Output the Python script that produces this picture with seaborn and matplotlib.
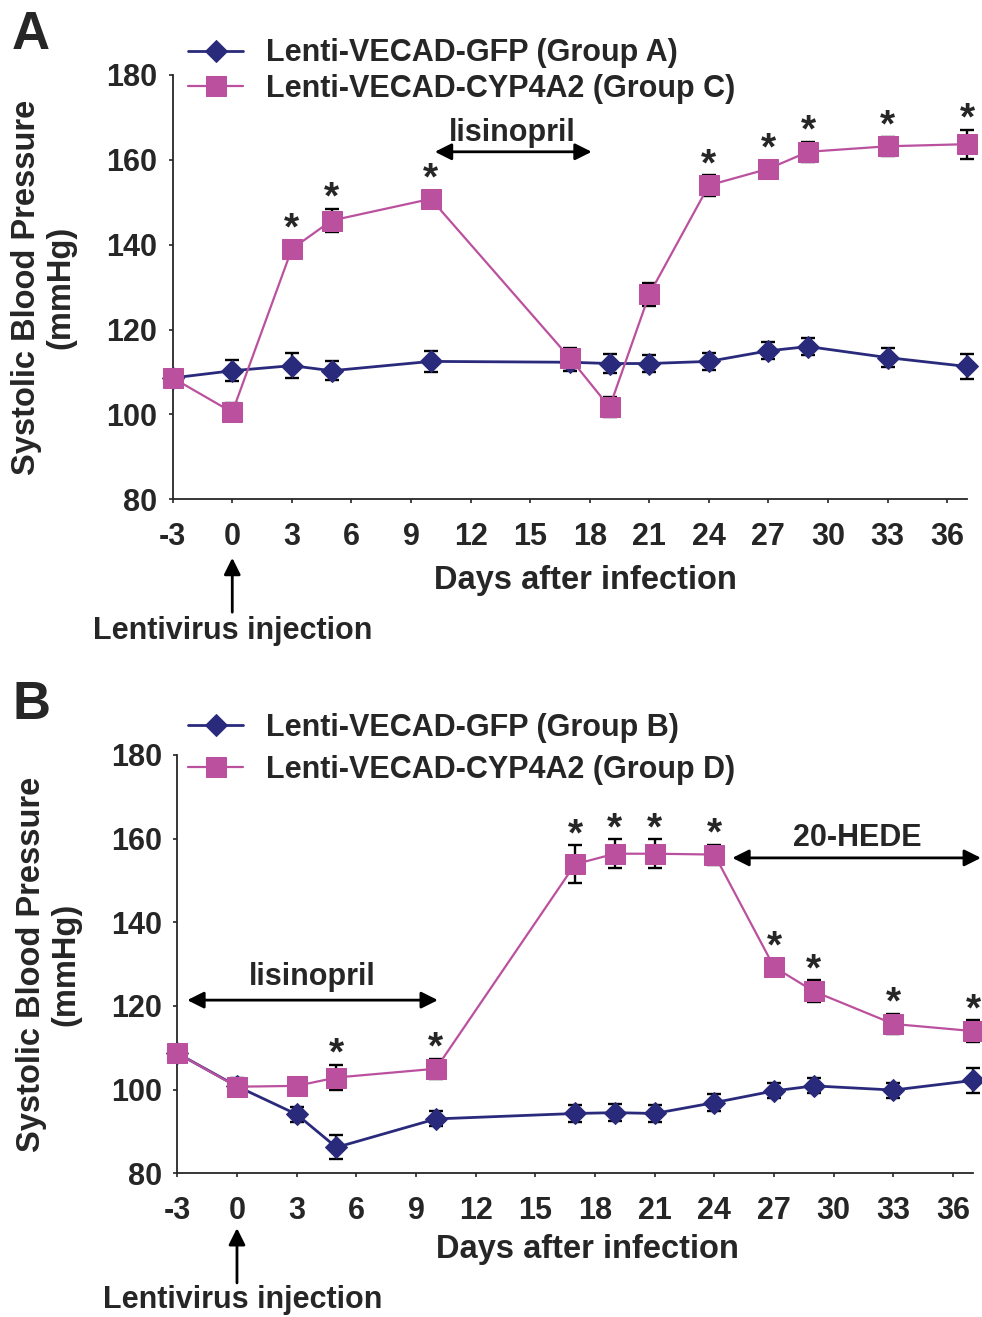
import numpy as np
import seaborn as sns
import matplotlib.pyplot as plt

sns.set_style("ticks")
plt.rcParams['font.family'] = ['Liberation Sans', 'DejaVu Sans']
plt.rcParams['font.weight'] = 'bold'
plt.rcParams['axes.unicode_minus'] = False

BLUE = '#2a2a7c'
PINK = '#bb519e'

# days after infection (same schedule in both panels)
days = [-3, 0, 3, 5, 10, 17, 19, 21, 24, 27, 29, 33, 37]
xticks = list(range(-3, 37, 3))

# panel A
gfp_A = [108.6, 110.3, 111.5, 110.3, 112.5, 112.3, 112.0, 112.0, 112.5, 115.0, 116.0, 113.4, 111.3]
gfp_A_err = [1.0, 2.5, 3.0, 2.3, 2.4, 2.0, 2.2, 2.0, 2.0, 2.0, 2.0, 2.3, 3.0]
cyp_A = [108.6, 100.5, 139.0, 145.7, 150.8, 113.3, 101.7, 128.3, 154.0, 157.9, 161.9, 163.2, 163.7]
cyp_A_err = [1.0, 2.1, 1.0, 2.8, 1.0, 2.4, 2.4, 2.7, 2.4, 1.0, 2.4, 2.2, 3.4]
sig_A = [3, 5, 10, 24, 27, 29, 33, 37]
labels_A = ['Lenti-VECAD-GFP (Group A)', 'Lenti-VECAD-CYP4A2 (Group C)']

# panel B
gfp_B = [108.7, 100.8, 94.1, 86.2, 93.0, 94.3, 94.5, 94.3, 96.9, 99.7, 100.9, 99.9, 102.2]
gfp_B_err = [1.0, 2.0, 1.8, 2.9, 1.8, 2.0, 2.0, 2.0, 2.0, 1.8, 1.8, 1.8, 2.9]
cyp_B = [108.7, 100.7, 100.9, 102.9, 105.0, 153.9, 156.4, 156.4, 156.2, 129.3, 123.5, 115.7, 114.0]
cyp_B_err = [1.0, 1.5, 1.0, 3.1, 2.4, 4.5, 3.5, 3.5, 2.4, 1.5, 2.6, 2.5, 2.6]
sig_B = [5, 10, 17, 19, 21, 24, 27, 29, 33, 37]
labels_B = ['Lenti-VECAD-GFP (Group B)', 'Lenti-VECAD-CYP4A2 (Group D)']

FS = 22
LFS = 23.5  # axis titles

fig = plt.figure(figsize=(9.82, 13.17), dpi=100)
W, H = 982, 1317


def px_axes(left, top, right, bottom):
    return fig.add_axes([left / W, 1 - bottom / H, (right - left) / W, (bottom - top) / H])


def panel(ax, gfp, gfp_err, cyp, cyp_err, labels, sig, leg_y, leg_space):
    for vals, err in [(gfp, gfp_err), (cyp, cyp_err)]:
        ax.errorbar(days, vals, yerr=err, fmt='none', ecolor='black', elinewidth=1.7,
                    capsize=5, capthick=1.7, zorder=2, clip_on=False)
    sns.lineplot(x=days, y=gfp, color=BLUE, marker='D', markersize=11.5, markeredgecolor=BLUE,
                 linewidth=2, label=labels[0], ax=ax, zorder=3, clip_on=False)
    sns.lineplot(x=days, y=cyp, color=PINK, marker='s', markersize=14, markeredgecolor=PINK,
                 linewidth=1.6, label=labels[1], ax=ax, zorder=4, clip_on=False)

    for d in sig:
        i = days.index(d)
        top = max(cyp[i] + cyp_err[i], cyp[i] + 2.3)
        ax.annotate('*', xy=(d, top), xytext=(0, 0), textcoords='offset points',
                    ha='center', va='baseline', fontsize=28, fontweight='bold')

    ax.set_xlim(-3, 37)
    ax.set_ylim(80, 180)
    ax.set_xticks(xticks)
    ax.set_yticks(range(80, 181, 20))
    ax.tick_params(axis='both', direction='out', length=3, width=1.2, labelsize=FS)
    ax.tick_params(axis='x', pad=13)
    ax.tick_params(axis='y', pad=8)
    for lab in ax.get_xticklabels() + ax.get_yticklabels():
        lab.set_fontweight('bold')
    sns.despine(ax=ax)
    for s in ['left', 'bottom']:
        ax.spines[s].set_linewidth(1.3)

    ax.set_ylabel('Systolic Blood Pressure\n(mmHg)', fontsize=LFS, fontweight='bold', linespacing=1.15)
    ax.yaxis.set_label_coords(-0.162, 0.5)
    ax.yaxis.label.set_verticalalignment('center')
    ax.set_xlabel('Days after infection', fontsize=LFS, fontweight='bold')
    ax.xaxis.label.set_verticalalignment('center')

    ax.legend(loc='center left', bbox_to_anchor=(188 / W, 1 - leg_y / H),
              bbox_transform=fig.transFigure, frameon=False, fontsize=FS,
              handlelength=1.8, handletextpad=0.75, borderpad=0, borderaxespad=0,
              labelspacing=leg_space)


axA = px_axes(172.7, 75, 967, 499.3)
panel(axA, gfp_A, gfp_A_err, cyp_A, cyp_A_err, labels_A, sig_A, 71, 0.18)
axA.xaxis.set_label_coords(0.52, -0.1925)

axB = px_axes(177.3, 755, 973, 1173.3)
panel(axB, gfp_B, gfp_B_err, cyp_B, cyp_B_err, labels_B, sig_B, 749, 0.38)
axB.xaxis.set_label_coords(0.516, -0.181)

arrow2 = dict(arrowstyle='<|-|>', mutation_scale=25, lw=2, color='black', shrinkA=0, shrinkB=0)

# treatment periods
axA.annotate('', xy=(10.2, 161.9), xytext=(18.1, 161.9), arrowprops=arrow2)
axA.text(14.1, 166.3, 'lisinopril', ha='center', va='center', fontsize=FS, fontweight='bold')

axB.annotate('', xy=(-2.5, 121.4), xytext=(10.1, 121.4), arrowprops=arrow2)
axB.text(3.8, 126.9, 'lisinopril', ha='center', va='center', fontsize=FS, fontweight='bold')
axB.annotate('', xy=(24.9, 155.4), xytext=(37.4, 155.4), arrowprops=arrow2, annotation_clip=False)
axB.text(31.2, 160.2, '20-HEDE', ha='center', va='center', fontsize=FS, fontweight='bold')

# injection marker
arrow1 = dict(arrowstyle='-|>', mutation_scale=25, lw=2, color='black', shrinkA=0, shrinkB=0)
for ax, tip, tail, txt_y, txt_x in [(axA, -0.138, -0.266, -0.311, 0.0),
                                     (axB, -0.131, -0.262, -0.303, 0.3)]:
    tr = ax.get_xaxis_transform()
    ax.annotate('', xy=(0, tip), xycoords=tr, xytext=(0, tail), textcoords=tr,
                arrowprops=arrow1, annotation_clip=False)
    ax.text(txt_x, txt_y, 'Lentivirus injection', transform=tr, ha='center', va='center',
            fontsize=FS, fontweight='bold')

fig.text(12 / W, 1 - 10 / H, 'A', ha='left', va='top', fontsize=38, fontweight='bold')
fig.text(12 / W, 1 - 680 / H, 'B', ha='left', va='top', fontsize=38, fontweight='bold')

plt.savefig('out.png', dpi=100)
